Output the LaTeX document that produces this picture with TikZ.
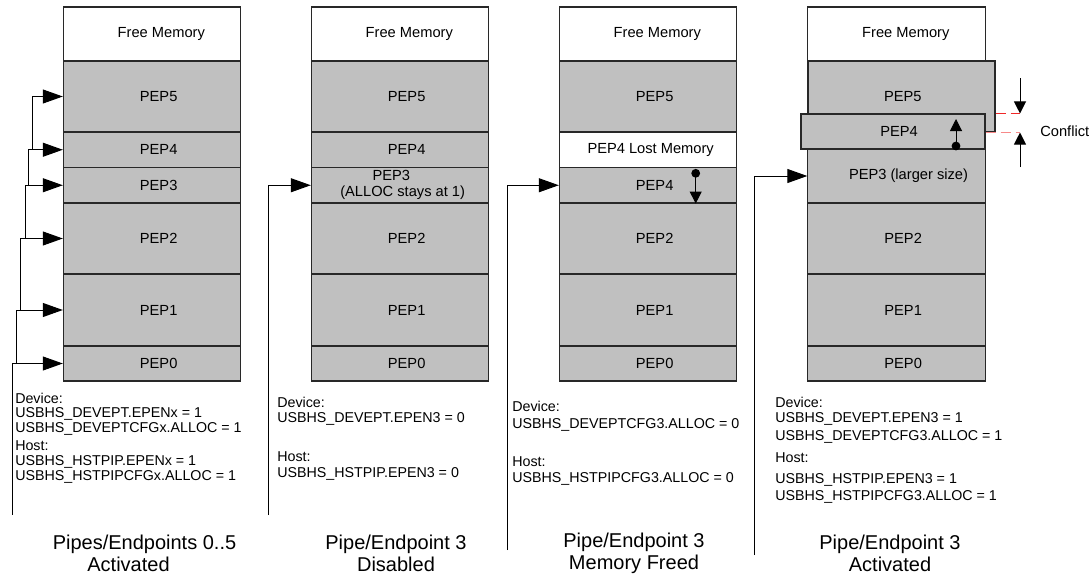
\documentclass[tikz,border=0pt]{standalone}
\usepackage{fontspec}
\setmainfont{Liberation Sans}
\usepackage{xcolor}
\usetikzlibrary{arrows.meta, positioning}

\definecolor{memgray}{RGB}{192,192,192}
\definecolor{edgegray}{RGB}{40,40,40}
\definecolor{conflictred}{RGB}{240,40,40}

\tikzset{
    seg/.style={draw=edgegray, line width=0.8pt, fill=memgray, inner sep=0pt,
        minimum width=133pt, minimum height=#1},
    freeseg/.style={seg=#1, fill=white},
    segtext/.style={font=\fontsize{11}{12}\selectfont, inner sep=0pt, align=center},
    regtext/.style={font=\fontsize{10.7}{10.9}\selectfont, anchor=west, inner sep=0pt, align=left},
    captext/.style={font=\fontsize{15}{16.5}\selectfont, inner sep=0pt, align=center},
    feed/.style={-{Triangle[length=15pt, width=10.5pt]}, line width=0.75pt},
    trunk/.style={line width=0.75pt},
    ptr/.style={-{Triangle[length=9pt, width=9pt]}, line width=0.75pt},
    conflictline/.style={conflictred, line width=1pt, dash pattern=on 7.5pt off 3.75pt},
}

\begin{document}
\begin{tikzpicture}[x=0.75pt, y=-0.75pt]
    \useasboundingbox (0,0) rectangle (1091,575);

    % 1. Free memory, PEP2, PEP1, PEP0 in all four columns
    \foreach \col/\x in {1/152, 2/400, 3/648, 4/896.5} {
        \node[freeseg=40.5pt] (free\col) at (\x,34) {};
        \node[segtext] (tfree\col) at ([xshift=7pt]free\col.center) {Free Memory};
        \foreach \k/\y/\h in {2/238.5/53.25pt, 1/310/54pt, 0/363.5/26.25pt} {
            \node[seg=\h] (pep\k-\col) at (\x,\y) {};
            \node[segtext] (tpep\k-\col) at ([xshift=5pt]pep\k-\col.center) {PEP\k};
        }
    }

    % 2. PEP5 in columns 1 to 3
    \foreach \col/\x in {1/152, 2/400, 3/648} {
        \node[seg=53.25pt] (pep5-\col) at (\x,96.5) {};
        \node[segtext] (tpep5-\col) at ([xshift=5pt]pep5-\col.center) {PEP5};
    }

    % PEP4 in columns 1 and 2, PEP3 in column 1
    \foreach \col/\x in {1/152, 2/400} {
        \node[seg=26.6pt] (pep4-\col) at (\x,149.75) {};
        \node[segtext] (tpep4-\col) at ([xshift=5pt]pep4-\col.center) {PEP4};
    }
    \node[seg=26.6pt] (pep3-1) at (152,185.25) {};
    \node[segtext] (tpep3-1) at ([xshift=5pt]pep3-1.center) {PEP3};

    % column 2: disabled PEP3
    \node[seg=26.6pt] (pep3-2) at (400,185.25) {};
    \node[segtext] (tpep3-2) at ([xshift=2pt]pep3-2.center) {PEP3\hspace*{17pt}\\(ALLOC stays at 1)};

    % column 3: lost memory, PEP4 moved down
    \node[freeseg=26.6pt] (lost3) at (648,149.75) {};
    \node[segtext] (tlost3) at ([xshift=2pt]lost3.center) {PEP4 Lost Memory};
    \node[seg=26.6pt] (pep4-3) at (648,185.25) {};
    \node[segtext] (tpep4-3) at ([xshift=5pt]pep4-3.center) {PEP4};

    % column 4: PEP3 larger, PEP4 pushed up over PEP5
    \node[seg=53.25pt, minimum width=140.25pt] (pep5-4) at (901.5,96.5) {};
    \node[segtext] (tpep5-4) at ([xshift=1pt]pep5-4.center) {PEP5};
    \node[seg=40.5pt] (pep3-4) at (896.5,176) {};
    \node[segtext] (tpep3-4) at ([xshift=9pt]pep3-4.center) {PEP3 (larger size)};
    \node[seg=26.25pt, minimum width=138pt] (pep4-4) at (893,131.5) {};
    \node[segtext] (tpep4-4) at ([xshift=4.5pt]pep4-4.center) {PEP4};

    % 3. Activation arrows
    \foreach \k/\bx in {5/32, 4/28, 3/25, 2/20, 1/16, 0/12} {
        \coordinate (b\k) at (pep\k-1.west -| \bx,0);
        \draw[feed] (b\k) -- (pep\k-1.west);
    }
    \foreach \a/\b in {5/4, 4/3, 3/2, 2/1, 1/0}
        \draw[trunk] (b\a) -- (b\a |- b\b);
    \coordinate (end1) at (12,515);
    \draw[trunk] (b0) -- (end1);

    \coordinate (end2) at (268,515);
    \draw[feed] (end2) |- (pep3-2.west);
    \coordinate (end3) at (507,550);
    \draw[feed] (end3) |- (pep4-3.west);
    \coordinate (end4) at (754,555);
    \draw[feed] (end4) |- (pep3-4.west);

    % 4. Moves of PEP4
    \coordinate (m3) at (695.7,173.3);
    \fill (m3) circle (3.3pt);
    \draw[ptr] (m3) -- (m3 |- pep4-3.south);
    \coordinate (m4) at (956,146);
    \coordinate (m4top) at (956,119);
    \fill (m4) circle (3.3pt);
    \draw[ptr] (m4) -- (m4top);

    % 5. Conflict marks
    \coordinate (ctop) at (1020,78);
    \coordinate (cbot) at (1020,167);
    \draw[conflictline] (pep5-4.east |- pep4-4.north) -- (ctop |- pep4-4.north);
    \draw[conflictline, draw=conflictred!55] (pep4-4.east |- pep5-4.south) -- (ctop |- pep5-4.south);
    \draw[ptr] (ctop) -- (ctop |- pep4-4.north);
    \draw[ptr] (cbot) -- (cbot |- pep5-4.south);
    \node[segtext, anchor=west] (conflict) at (1040,131) {Conflict};

    % 6. Register settings
    \node[regtext] (dev1) at (15,414) {Device:\\USBHS\_DEVEPT.EPENx = 1\\USBHS\_DEVEPTCFGx.ALLOC = 1};
    \node[regtext] (host1) at (15,462) {Host:\\USBHS\_HSTPIP.EPENx = 1\\USBHS\_HSTPIPCFGx.ALLOC = 1};
    \node[regtext] (dev2) at (277,411) {Device:\\[0.4pt]USBHS\_DEVEPT.EPEN3 = 0};
    \node[regtext] (host2) at (277,466) {Host:\\[0.4pt]USBHS\_HSTPIP.EPEN3 = 0};
    \node[regtext] (dev3) at (512,416) {Device:\\[1.5pt]USBHS\_DEVEPTCFG3.ALLOC = 0};
    \node[regtext] (host3) at (512,471) {Host:\\[1.5pt]USBHS\_HSTPIPCFG3.ALLOC = 0};
    \node[regtext] (dev4) at (775,420.5) {Device:\\[0.4pt]USBHS\_DEVEPT.EPEN3 = 1\\[2.9pt]USBHS\_DEVEPTCFG3.ALLOC = 1};
    \node[regtext] (host4) at (775,478) {Host:\\[5pt]USBHS\_HSTPIP.EPEN3 = 1\\[1.5pt]USBHS\_HSTPIPCFG3.ALLOC = 1};

    % 7. Captions
    \node[captext] (cap1) at (144.5,553) {Pipes/Endpoints 0..5\\Activated\hspace*{24pt}};
    \node[captext] (cap2) at (396,553) {Pipe/Endpoint 3\\Disabled};
    \node[captext] (cap3) at (634,553) {Pipe/Endpoint 3\\Memory Freed};
    \node[captext] (cap4) at (890,553) {Pipe/Endpoint 3\\Activated};

\end{tikzpicture}
\end{document}
